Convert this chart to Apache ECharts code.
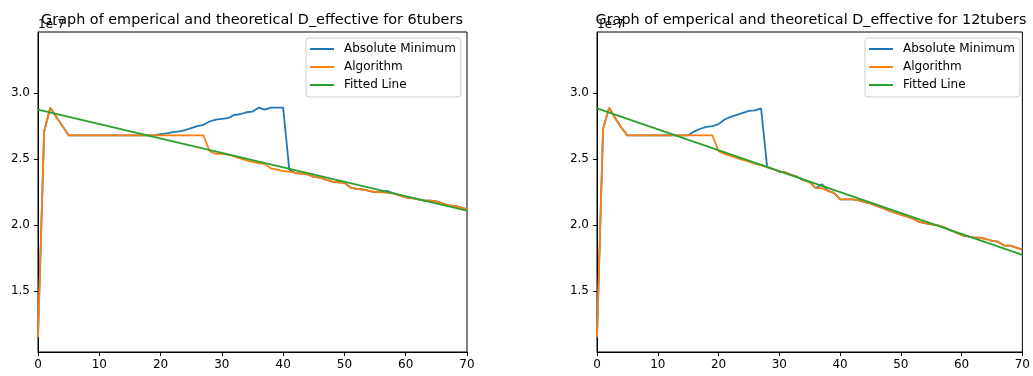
<!DOCTYPE html>
<html>
<head>
<meta charset="utf-8">
<script src="https://cdn.jsdelivr.net/npm/echarts@6/dist/echarts.min.js"></script>
<style>
  html, body { margin: 0; padding: 0; background: #fff; }
  #main { width: 1033px; height: 376px; }
</style>
</head>
<body>
<div id="main"></div>
<script>
// values are in units of 1e-7, one point per step 0..70
const titles = [
  "Graph of emperical and theoretical D_effective for 6tubers",
  "Graph of emperical and theoretical D_effective for 12tubers"
];
const seriesNames = ["Absolute Minimum", "Algorithm", "Fitted Line"];
const xTicks = [0, 10, 20, 30, 40, 50, 60, 70];
const yTicks = [1.5, 2.0, 2.5, 3.0];

const absMin6 = [
  1.15, 2.71, 2.89, 2.82, 2.75, 2.68, 2.68, 2.68, 2.68, 2.68,
  2.68, 2.68, 2.68, 2.68, 2.68, 2.68, 2.68, 2.68, 2.68, 2.68,
  2.69, 2.695, 2.705, 2.71, 2.72, 2.735, 2.75, 2.76, 2.785, 2.80,
  2.805, 2.81, 2.835, 2.84, 2.855, 2.86, 2.89, 2.875, 2.89, 2.89,
  2.89, 2.42, 2.395, 2.39, 2.385, 2.365, 2.36, 2.345, 2.33, 2.325,
  2.32, 2.285, 2.275, 2.27, 2.26, 2.25, 2.25, 2.26, 2.24, 2.225,
  2.21, 2.205, 2.195, 2.185, 2.185, 2.18, 2.165, 2.15, 2.145, 2.135,
  2.12
];
const algorithm6 = [
  1.15, 2.71, 2.89, 2.82, 2.75, 2.68, 2.68, 2.68, 2.68, 2.68,
  2.68, 2.68, 2.68, 2.68, 2.68, 2.68, 2.68, 2.68, 2.68, 2.68,
  2.68, 2.68, 2.68, 2.68, 2.68, 2.68, 2.68, 2.68, 2.56, 2.54,
  2.54, 2.535, 2.52, 2.505, 2.49, 2.48, 2.47, 2.465, 2.43, 2.42,
  2.41, 2.405, 2.395, 2.39, 2.385, 2.365, 2.36, 2.345, 2.33, 2.325,
  2.32, 2.285, 2.275, 2.27, 2.26, 2.25, 2.25, 2.245, 2.24, 2.225,
  2.21, 2.205, 2.195, 2.185, 2.185, 2.18, 2.165, 2.15, 2.145, 2.135,
  2.12
];
const fitted6 = [[0, 2.875], [70, 2.11]];

const absMin12 = [
  1.15, 2.73, 2.89, 2.81, 2.74, 2.68, 2.68, 2.68, 2.68, 2.68,
  2.68, 2.68, 2.68, 2.68, 2.68, 2.68, 2.71, 2.73, 2.745, 2.75,
  2.765, 2.80, 2.82, 2.835, 2.85, 2.865, 2.87, 2.885, 2.44, 2.425,
  2.405, 2.40, 2.38, 2.365, 2.34, 2.325, 2.28, 2.31, 2.26, 2.245,
  2.195, 2.195, 2.195, 2.19, 2.175, 2.165, 2.145, 2.13, 2.11, 2.095,
  2.08, 2.065, 2.05, 2.025, 2.015, 2.005, 2.0, 1.985, 1.965, 1.945,
  1.925, 1.915, 1.905, 1.905, 1.895, 1.88, 1.875, 1.845, 1.845, 1.83,
  1.815
];
const algorithm12 = [
  1.15, 2.73, 2.89, 2.81, 2.74, 2.68, 2.68, 2.68, 2.68, 2.68,
  2.68, 2.68, 2.68, 2.68, 2.68, 2.68, 2.68, 2.68, 2.68, 2.68,
  2.56, 2.54, 2.525, 2.51, 2.495, 2.48, 2.465, 2.455, 2.44, 2.425,
  2.405, 2.40, 2.38, 2.365, 2.34, 2.325, 2.28, 2.28, 2.26, 2.245,
  2.195, 2.195, 2.195, 2.19, 2.175, 2.165, 2.145, 2.13, 2.11, 2.095,
  2.08, 2.065, 2.05, 2.025, 2.015, 2.005, 2.0, 1.985, 1.965, 1.945,
  1.925, 1.915, 1.905, 1.905, 1.895, 1.88, 1.875, 1.845, 1.845, 1.83,
  1.815
];
const fitted12 = [[0, 2.885], [70, 1.775]];

const colors = ["#1f77b4", "#ff7f0e", "#2ca02c"];
const font = "DejaVu Sans";

const chart = echarts.init(document.getElementById("main"));

const grids = [
  { left: 38, top: 32, width: 429, height: 320 },
  { left: 597, top: 32, width: 428, height: 320 }
];

function toPairs(arr) {
  return arr.map((v, i) => [i, v]);
}

function xAxisFor(i) {
  return {
    type: "value", gridIndex: i, min: 0, max: 70, interval: 10, z: 3,
    axisLine: { lineStyle: { color: "#000", width: 1 } },
    axisTick: { length: 4, lineStyle: { color: "#000" } },
    axisLabel: { color: "#000", fontSize: 12, fontFamily: font, margin: 7 },
    splitLine: { show: false }
  };
}

function yAxisFor(i) {
  return {
    type: "value", gridIndex: i, min: 1.039, max: 3.463, z: 3,
    axisLine: { show: true, lineStyle: { color: "#000", width: 1 } },
    axisTick: { show: true, length: 4, customValues: yTicks, lineStyle: { color: "#000" } },
    axisLabel: {
      color: "#000", fontSize: 12, fontFamily: font, margin: 8,
      customValues: yTicks,
      formatter: v => v.toFixed(1)
    },
    splitLine: { show: false }
  };
}

function lineSeries(name, data, i, color) {
  return {
    name: name, type: "line", data: data,
    xAxisIndex: i, yAxisIndex: i,
    symbol: "none", showSymbol: false,
    lineStyle: { color: color, width: 1.8 },
    itemStyle: { color: color },
    emphasis: { disabled: true }
  };
}

function legendAt(left) {
  return {
    left: left, top: 38, orient: "vertical",
    data: seriesNames,
    icon: "rect",
    itemWidth: 24, itemHeight: 2, itemGap: 4,
    padding: [4, 5, 5, 4],
    borderColor: "#cccccc", borderWidth: 1, borderRadius: 3,
    backgroundColor: "rgba(255,255,255,0.8)",
    selectedMode: false,
    textStyle: { color: "#000", fontSize: 12, fontFamily: font, lineHeight: 14, padding: [0, 0, 0, 5] }
  };
}

chart.setOption({
  animation: false,
  title: [
    { text: titles[0], left: 252, top: 13, textAlign: "center", padding: 0,
      textStyle: { fontSize: 14.4, fontWeight: "normal", fontFamily: font, color: "#000" } },
    { text: titles[1], left: 811, top: 13, textAlign: "center", padding: 0,
      textStyle: { fontSize: 14.4, fontWeight: "normal", fontFamily: font, color: "#000" } },
    { text: "1e-7", left: 38, top: 19, padding: 0,
      textStyle: { fontSize: 12, fontWeight: "normal", fontFamily: font, color: "#000" } },
    { text: "1e-7", left: 597, top: 19, padding: 0,
      textStyle: { fontSize: 12, fontWeight: "normal", fontFamily: font, color: "#000" } }
  ],
  grid: grids.map(g => Object.assign({ show: true, borderColor: "#000", borderWidth: 1, backgroundColor: "#fff" }, g)),
  xAxis: [xAxisFor(0), xAxisFor(1)],
  yAxis: [yAxisFor(0), yAxisFor(1)],
  legend: [legendAt(306), legendAt(865)],
  series: [
    lineSeries(seriesNames[0], toPairs(absMin6), 0, colors[0]),
    lineSeries(seriesNames[1], toPairs(algorithm6), 0, colors[1]),
    lineSeries(seriesNames[2], fitted6, 0, colors[2]),
    lineSeries(seriesNames[0], toPairs(absMin12), 1, colors[0]),
    lineSeries(seriesNames[1], toPairs(algorithm12), 1, colors[1]),
    lineSeries(seriesNames[2], fitted12, 1, colors[2])
  ]
});
</script>
</body>
</html>
